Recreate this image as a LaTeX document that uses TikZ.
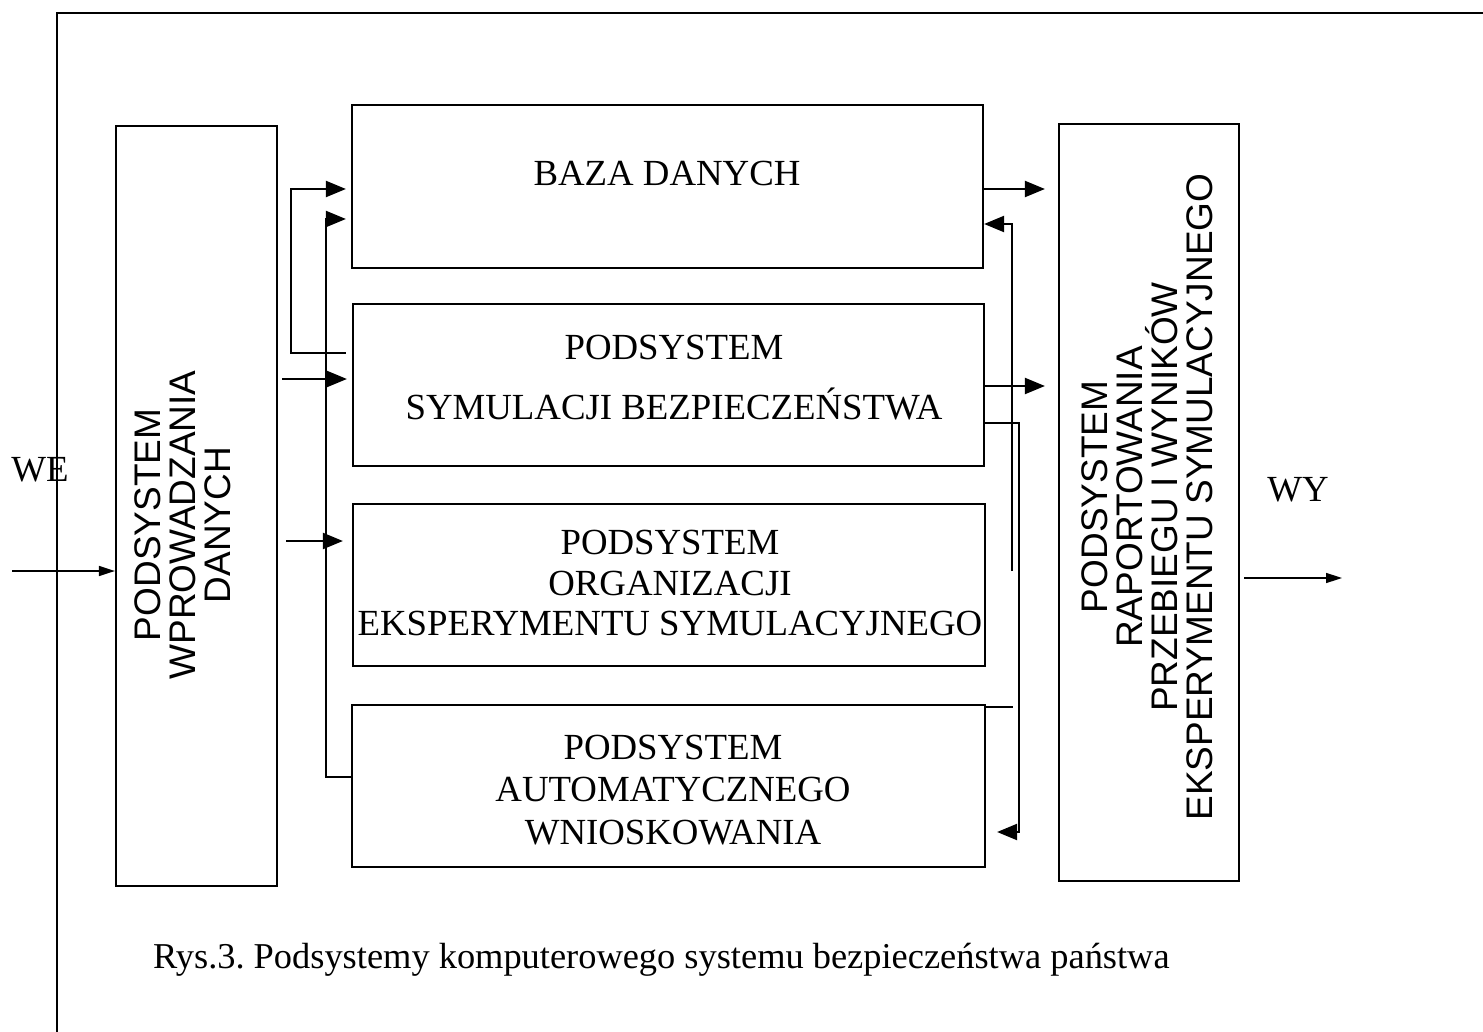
\documentclass[tikz,border=0pt]{standalone}
\usepackage{fontspec}
\setmainfont{Liberation Serif}
\newfontfamily\arialfont{Liberation Sans}
\usetikzlibrary{arrows.meta}
\frenchspacing
\begin{document}
\begin{tikzpicture}[x=1pt,y=-1pt,
  line width=2.2pt,
  blk/.style={draw, rectangle, inner sep=0pt},
  serifbig/.style={font=\fontsize{36.8}{40}\selectfont, align=center, inner sep=0pt},
  sansbig/.style={font=\arialfont\fontsize{37}{35}\selectfont, align=center, inner sep=0pt, rotate=90},
  arr/.style={-{Triangle[length=20pt,width=16pt]}},
  thinarr/.style={line width=1.5pt, -{Triangle[length=16pt,width=10pt]}},
  wire/.style={line width=2.4pt}
]
\useasboundingbox (0,0) rectangle (1483,1032);

% outer frame, open to the right and at the bottom
\draw[wire] (1483,13) -| (57,1032);

% subsystem boxes
\node[blk, minimum width=161pt, minimum height=760pt] (lb)   at (196.5,506) {};
\node[blk, minimum width=631pt, minimum height=163pt] (baza) at (667.5,186.5) {};
\node[blk, minimum width=631pt, minimum height=162pt] (sym)  at (668.5,385) {};
\node[blk, minimum width=632pt, minimum height=162pt] (org)  at (669,585) {};
\node[blk, minimum width=633pt, minimum height=162pt] (auto) at (668.5,786) {};
\node[blk, minimum width=180pt, minimum height=757pt] (rb)   at (1149,502.5) {};

% box captions
\node[serifbig] (tbaza) at (667,173) {BAZA DANYCH};
\node[serifbig, font=\fontsize{36.8}{60}\selectfont] (tsym) at (674,378) {PODSYSTEM\\SYMULACJI BEZPIECZEŃSTWA};
\node[serifbig, font=\fontsize{36.8}{40.5}\selectfont] (torg) at (670,583) {PODSYSTEM\\ORGANIZACJI\\EKSPERYMENTU SYMULACYJNEGO};
\node[serifbig, font=\fontsize{36.8}{42.5}\selectfont] (tauto) at (673,790) {PODSYSTEM\\AUTOMATYCZNEGO\\WNIOSKOWANIA};
\node[sansbig] (tlb) at (183,525) {PODSYSTEM\\WPROWADZANIA\\DANYCH};
\node[sansbig] (trb) at (1147,497) {PODSYSTEM\\RAPORTOWANIA\\PRZEBIEGU I WYNIKÓW\\EKSPERYMENTU SYMULACYJNEGO};

% input / output
\node[font=\fontsize{36.8}{40}\selectfont, inner sep=0pt] (we) at (40,470) {WE};
\node[font=\fontsize{36.8}{40}\selectfont, inner sep=0pt] (wy) at (1298,490) {WY};
\coordinate (wein) at (12,571);
\coordinate (wyout) at (1342,578);
\draw[thinarr] (wein) -- (lb.west |- wein);
\draw[thinarr] ([xshift=4pt]rb.east |- wyout) -- (wyout);

% left-side feeds
\draw[arr, shorten >=5pt] ([xshift=-6pt]sym.west |- 0,353) -| (291,189) -- (baza.west |- 0,189);
\draw[arr, shorten >=5pt] (auto.west |- 0,777) -| (326,219) -- (baza.west |- 0,219);
\draw[arr, shorten >=5pt] ([xshift=4pt]lb.east |- 0,379) -- (sym.west |- 0,379);
\draw[arr, shorten >=9pt] ([xshift=8pt]lb.east |- 0,541) -- (org.west |- 0,541);

% right-side feeds
\draw[arr, shorten >=13pt] (baza.east |- 0,189) -- (rb.west |- 0,189);
\draw[arr, shorten >=13pt] (sym.east |- 0,386) -- (rb.west |- 0,386);
\coordinate (fbfree) at (1012,571);
\draw[arr] (fbfree) |- (baza.east |- 0,224);
\draw[arr, shorten >=11pt] (sym.east |- 0,423) -| (1019,832) -- (auto.east |- 0,832);
\coordinate (autostub) at (1013,707);
\draw (auto.north east |- autostub) -- (autostub);

% figure caption
\node[font=\fontsize{36.4}{40}\selectfont, anchor=west, inner sep=0pt] (cap) at (152,960)
  {Rys.3. Podsystemy komputerowego systemu bezpieczeństwa państwa};
\end{tikzpicture}
\end{document}
